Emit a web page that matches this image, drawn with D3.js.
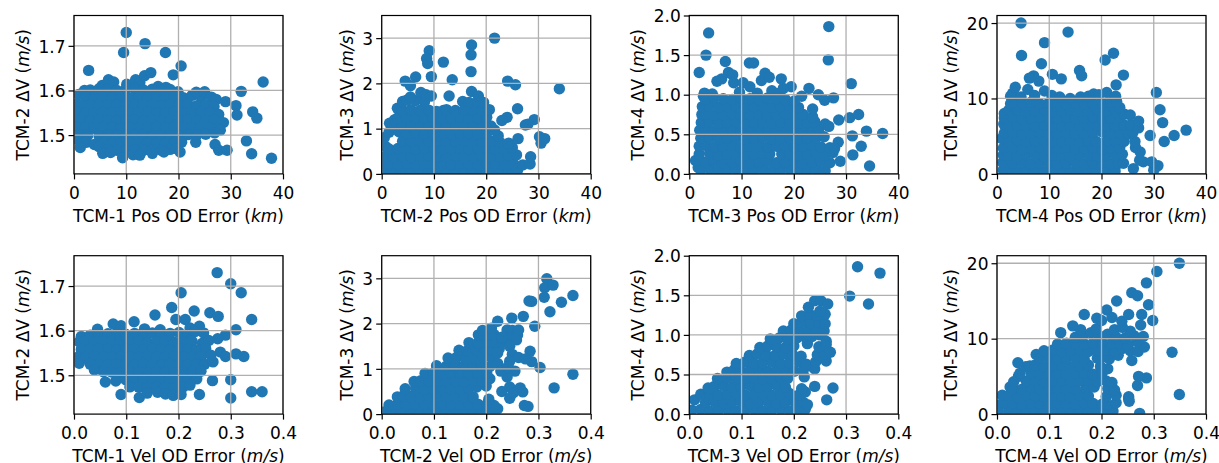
<!DOCTYPE html>
<html>
<head>
<meta charset="utf-8">
<script src="https://cdn.jsdelivr.net/npm/d3@7"></script>
<style>
  body { margin: 0; background: #fff; }
  svg { display: block; }
  text { font-family: "DejaVu Sans", sans-serif; fill: #000; }
</style>
</head>
<body>
<svg id="chart" width="1219" height="463"></svg>
<script>
// ---- Monte Carlo samples: [OD error, next-TCM delta-V] ----

// TCM-1 position OD error (km) vs TCM-2 dV (m/s)
const tcm1PosVsTcm2Dv = [
 [10.0,1.730],[9.5,1.685],[13.6,1.705],[17.5,1.685],[20.5,1.655],[2.8,1.645],[36.2,1.619],[32.0,1.598],
 [0.9,1.591],[2.0,1.600],[5.4,1.611],[6.6,1.624],[7.6,1.619],[10.1,1.614],[11.8,1.624],[12.6,1.618],[13.5,1.633],[14.7,1.640],[16.1,1.609],[17.6,1.607],[19.0,1.635],
 [3.1,1.601],[4.8,1.604],[6.5,1.602],[8.2,1.600],[9.9,1.603],[11.6,1.604],[13.3,1.601],[15.0,1.603],[16.7,1.600],[18.4,1.602],[19.9,1.597],
 [2.2,1.585],[3.9,1.583],[5.6,1.586],[7.3,1.584],[9.0,1.585],[10.7,1.583],[12.4,1.586],[14.1,1.584],[15.8,1.585],[17.5,1.583],[19.2,1.586],[20.9,1.584],[22.6,1.589],[24.3,1.586],[23.4,1.596],[25.0,1.597],[26.3,1.585],[27.2,1.580],
 [0.5,1.569],[1.4,1.567],[3.1,1.568],[4.8,1.566],[6.5,1.568],[8.2,1.567],[9.9,1.566],[11.6,1.568],[13.3,1.567],[15.0,1.569],[16.7,1.566],[18.4,1.568],[20.1,1.567],[21.8,1.569],[23.5,1.566],[25.2,1.568],[26.8,1.564],[29.0,1.575],[31.0,1.566],
 [0.5,1.551],[2.2,1.550],[3.9,1.549],[5.6,1.551],[7.3,1.550],[9.0,1.552],[10.7,1.549],[12.4,1.550],[14.1,1.551],[15.8,1.549],[17.5,1.550],[19.2,1.552],[20.9,1.550],[22.6,1.549],[24.3,1.551],[26.0,1.550],[27.7,1.546],[31.2,1.545],[34.2,1.552],[35.0,1.538],
 [0.4,1.534],[1.4,1.533],[3.1,1.532],[4.8,1.534],[6.5,1.533],[8.2,1.532],[9.9,1.534],[11.6,1.533],[13.3,1.532],[15.0,1.534],[16.7,1.533],[18.4,1.531],[20.1,1.533],[21.8,1.534],[23.5,1.532],[25.2,1.533],[26.9,1.534],[28.6,1.528],
 [0.6,1.517],[2.2,1.516],[3.9,1.515],[5.6,1.517],[7.3,1.516],[9.0,1.515],[10.7,1.517],[12.4,1.516],[14.1,1.515],[15.8,1.517],[17.5,1.516],[19.2,1.518],[20.9,1.516],[22.6,1.515],[24.3,1.517],[26.0,1.516],[27.7,1.514],
 [1.0,1.500],[2.6,1.499],[4.8,1.498],[6.5,1.500],[8.2,1.499],[9.9,1.498],[11.6,1.500],[13.3,1.499],[15.0,1.498],[16.7,1.500],[18.4,1.499],[20.1,1.498],[21.8,1.501],[23.5,1.500],[25.2,1.502],[26.9,1.505],[28.0,1.511],
 [0.8,1.489],[2.4,1.484],[3.9,1.479],[5.6,1.482],[7.3,1.481],[9.0,1.483],[10.7,1.482],[12.4,1.481],[14.1,1.483],[15.8,1.482],[17.5,1.481],[19.2,1.483],[20.6,1.484],[23.3,1.484],[33.0,1.487],
 [1.2,1.472],[4.8,1.474],[6.5,1.467],[8.2,1.466],[9.9,1.465],[11.6,1.467],[13.3,1.466],[15.0,1.467],[16.7,1.466],[18.4,1.468],[19.5,1.470],[27.0,1.479],[27.7,1.466],[29.3,1.466],
 [5.5,1.459],[7.0,1.461],[9.3,1.449],[11.3,1.456],[12.6,1.455],[15.0,1.459],[17.2,1.462],[20.3,1.462],[34.0,1.458],[37.8,1.448]
];

// TCM-2 position OD error (km) vs TCM-3 dV (m/s)
const tcm2PosVsTcm3Dv = [
 [0.5,0.05],[2.2,0.06],[3.9,0.04],[5.6,0.05],[7.3,0.06],[9.0,0.05],[10.7,0.04],[12.4,0.06],[14.1,0.05],[15.8,0.04],[17.5,0.06],[19.2,0.05],[20.9,0.04],[22.6,0.06],[24.3,0.05],[26.0,0.08],
 [0.3,0.25],[1.4,0.22],[3.1,0.21],[4.8,0.23],[6.5,0.22],[8.2,0.21],[9.9,0.23],[11.6,0.22],[13.3,0.21],[15.0,0.23],[16.7,0.22],[18.4,0.21],[20.1,0.23],[21.8,0.22],[23.5,0.21],[25.2,0.23],[27.0,0.20],[28.4,0.22],
 [0.6,0.38],[2.2,0.39],[3.9,0.40],[5.6,0.38],[7.3,0.39],[9.0,0.40],[10.7,0.38],[12.4,0.39],[14.1,0.40],[15.8,0.38],[17.5,0.39],[19.2,0.40],[20.9,0.38],[22.6,0.39],[24.3,0.40],[25.8,0.42],[28.5,0.38],
 [0.8,0.60],[1.4,0.55],[3.1,0.56],[4.8,0.57],[6.5,0.55],[8.2,0.56],[9.9,0.57],[11.6,0.55],[13.3,0.56],[15.0,0.57],[16.7,0.55],[18.4,0.56],[20.1,0.57],[21.8,0.55],[23.5,0.56],[25.0,0.58],
 [0.5,0.80],[4.0,0.72],[5.6,0.73],[7.3,0.74],[9.0,0.72],[10.7,0.73],[12.4,0.74],[14.1,0.72],[15.8,0.73],[17.5,0.74],[19.2,0.72],[20.9,0.73],[22.6,0.70],[24.3,0.68],[26.1,0.78],[22.3,0.84],
 [1.4,0.92],[3.3,0.93],[4.8,0.90],[6.5,0.91],[8.2,0.89],[9.9,0.90],[11.6,0.91],[13.3,0.89],[15.0,0.90],[16.7,0.91],[18.4,0.89],[20.1,0.90],[21.6,0.97],
 [1.5,1.12],[2.2,1.07],[3.9,1.08],[5.6,1.06],[7.3,1.07],[9.0,1.08],[10.7,1.06],[12.4,1.07],[14.1,1.08],[15.8,1.06],[17.5,1.07],[19.2,1.08],[20.9,1.06],
 [2.5,1.20],[3.1,1.24],[4.8,1.25],[6.5,1.23],[8.2,1.24],[9.9,1.25],[11.6,1.23],[13.3,1.24],[15.0,1.25],[16.7,1.23],[18.4,1.24],[20.1,1.25],
 [3.0,1.45],[3.9,1.41],[5.6,1.42],[7.3,1.40],[9.0,1.41],[10.5,1.38],[11.8,1.40],[12.4,1.42],[14.1,1.40],[15.8,1.41],[17.5,1.42],[19.2,1.40],[20.6,1.42],
 [4.0,1.60],[4.8,1.63],[6.5,1.62],[8.2,1.60],[15.5,1.60],[16.7,1.58],[18.4,1.60],[19.5,1.58],
 [5.5,1.70],[7.5,1.80],[8.5,1.75],[9.5,1.72],[17.2,1.82],[18.5,1.72],
 [21.6,3.00],[17.2,2.85],[17.1,2.63],[17.1,2.26],[9.1,2.72],[8.6,2.55],[8.8,2.44],[11.8,2.47],[9.5,2.15],[6.5,2.14],[4.5,2.05],[5.5,1.95],[13.5,2.08],[12.9,1.72],
 [24.1,2.05],[25.6,1.97],[34.0,1.88],[26.0,1.44],[24.0,1.25],[23.0,1.18],[29.2,1.20],[28.0,1.10],[27.5,1.08],[30.2,0.82],[30.5,0.68],[31.2,0.78]
];

// TCM-3 position OD error (km) vs TCM-4 dV (m/s)
const tcm3PosVsTcm4Dv = [
 [1.7,0.08],[2.2,0.05],[3.9,0.06],[5.6,0.04],[7.3,0.05],[9.0,0.06],[10.7,0.04],[12.4,0.05],[14.1,0.06],[15.8,0.04],[17.5,0.05],[19.2,0.06],[20.9,0.04],[22.6,0.05],[24.3,0.06],[26.0,0.04],
 [1.2,0.17],[3.1,0.15],[4.8,0.16],[6.5,0.14],[8.2,0.15],[9.9,0.16],[11.6,0.14],[13.3,0.15],[15.0,0.16],[16.7,0.14],[18.4,0.15],[20.1,0.16],[21.8,0.14],[23.5,0.15],[25.2,0.16],[26.9,0.14],[28.9,0.16],
 [1.9,0.25],[3.9,0.26],[5.6,0.24],[7.3,0.25],[9.0,0.26],[10.7,0.24],[12.4,0.25],[14.1,0.26],[15.4,0.25],[17.7,0.25],[19.2,0.26],[20.9,0.24],[22.6,0.25],[24.3,0.26],[26.0,0.24],[27.5,0.27],
 [1.9,0.35],[3.1,0.36],[4.8,0.34],[6.5,0.35],[8.2,0.36],[9.9,0.34],[11.6,0.35],[13.3,0.36],[15.0,0.34],[16.7,0.35],[18.4,0.36],[20.1,0.34],[21.8,0.35],[23.5,0.36],[25.2,0.34],[26.9,0.33],[28.5,0.40],[27.8,0.32],
 [2.2,0.45],[3.9,0.46],[5.6,0.44],[7.3,0.45],[9.0,0.46],[10.7,0.44],[12.4,0.45],[14.1,0.46],[15.8,0.44],[17.5,0.45],[19.2,0.46],[20.9,0.44],[22.6,0.45],[24.3,0.46],[25.8,0.47],
 [2.0,0.55],[3.1,0.56],[4.8,0.54],[6.5,0.55],[8.2,0.56],[9.9,0.54],[11.6,0.55],[13.3,0.56],[15.0,0.54],[16.7,0.55],[18.4,0.56],[20.1,0.54],[21.8,0.55],[23.5,0.56],[24.8,0.57],
 [2.3,0.65],[3.9,0.66],[5.6,0.64],[7.3,0.65],[9.0,0.66],[10.7,0.64],[12.4,0.65],[14.1,0.66],[15.8,0.64],[17.5,0.65],[19.2,0.66],[20.9,0.64],[22.6,0.65],[24.0,0.66],[26.0,0.63],[26.7,0.60],
 [2.4,0.75],[3.1,0.76],[4.8,0.74],[6.5,0.75],[8.2,0.76],[9.9,0.74],[11.6,0.75],[13.3,0.76],[15.0,0.74],[16.7,0.75],[18.4,0.76],[20.1,0.74],[21.8,0.75],[23.6,0.72],
 [2.5,0.85],[3.9,0.86],[5.6,0.84],[7.3,0.85],[9.0,0.86],[10.7,0.84],[12.4,0.85],[14.1,0.86],[15.8,0.84],[17.5,0.85],[19.2,0.86],[20.9,0.84],[23.6,0.82],
 [2.7,0.98],[3.1,0.94],[4.8,0.96],[6.5,0.95],[8.2,0.94],[9.9,0.96],[11.6,0.95],[13.3,0.94],[15.0,0.96],[16.7,0.95],[18.4,0.94],[20.1,0.92],[21.5,0.98],
 [2.9,1.02],[4.4,1.01],[5.3,1.17],[6.2,1.20],[6.9,1.42],[7.5,1.28],[8.3,1.25],[8.5,1.15],[10.3,1.15],[11.5,1.40],[12.3,1.40],[11.6,1.10],[13.8,1.18],[14.5,1.27],[15.3,1.22],
 [17.6,1.20],[15.8,1.05],[19.5,1.10],[22.9,1.08],[24.7,1.00],[25.9,0.93],[27.6,0.96],[9.6,1.03],[13.0,1.02],[17.2,1.02],[18.0,1.08],
 [3.7,1.78],[3.2,1.50],[1.9,1.28],[26.7,1.86],[26.6,1.44],[28.6,0.68],[30.7,0.71],[32.4,0.75],[31.0,1.14],[31.2,0.48],[33.9,0.54],[37.0,0.51],[32.9,0.35],[31.3,0.24],[34.5,0.10]
];

// TCM-4 position OD error (km) vs TCM-5 dV (m/s)
const tcm4PosVsTcm5Dv = [
 [1.2,0.5],[2.2,0.4],[3.9,0.3],[5.6,0.5],[7.3,0.4],[9.0,0.3],[10.7,0.5],[12.4,0.4],[14.1,0.3],[15.8,0.5],[17.5,0.4],[19.2,0.3],[20.9,0.5],[22.6,0.4],[26.1,0.7],[30.3,0.9],[30.0,0.5],
 [1.1,1.5],[1.4,1.3],[3.1,1.4],[4.8,1.5],[6.5,1.3],[8.2,1.4],[9.9,1.5],[11.6,1.3],[13.3,1.4],[15.0,1.5],[16.7,1.3],[18.4,1.4],[20.1,1.5],[21.8,1.3],[23.3,1.4],[24.2,1.4],[28.0,1.6],[29.6,1.6],[30.8,1.1],
 [1.2,2.5],[2.2,2.4],[3.9,2.3],[5.6,2.5],[7.3,2.4],[9.0,2.3],[10.7,2.5],[12.4,2.4],[14.1,2.3],[15.8,2.5],[17.5,2.4],[19.2,2.3],[20.9,2.5],[22.6,2.4],[24.0,2.6],[27.3,1.8],
 [1.2,3.4],[3.1,3.5],[4.8,3.3],[6.5,3.4],[8.2,3.5],[9.9,3.3],[11.6,3.4],[13.3,3.5],[15.0,3.3],[16.7,3.4],[18.4,3.5],[20.1,3.3],[21.8,3.4],[23.5,3.5],[27.4,2.9],[26.5,3.5],
 [0.9,4.7],[2.2,4.4],[3.9,4.5],[5.6,4.3],[7.3,4.4],[9.0,4.5],[10.7,4.3],[12.4,4.4],[14.1,4.5],[15.8,4.3],[17.5,4.4],[19.0,4.3],[21.0,4.4],[22.6,4.5],[24.3,4.3],[26.4,4.3],
 [1.4,5.4],[3.1,5.5],[4.8,5.3],[6.5,5.4],[8.2,5.5],[9.9,5.3],[11.6,5.4],[13.3,5.5],[15.0,5.3],[16.7,5.4],[18.4,5.5],[20.1,5.6],[21.8,5.4],[23.5,5.5],[25.2,5.3],[26.0,5.5],
 [1.3,6.6],[2.2,6.4],[3.9,6.5],[5.6,6.3],[7.3,6.4],[9.0,6.5],[10.7,6.3],[12.4,6.4],[14.1,6.5],[15.8,6.3],[17.5,6.4],[19.2,6.5],[20.9,6.3],[22.6,6.4],[24.3,6.5],[25.6,6.5],[27.1,6.1],
 [1.4,7.4],[3.1,7.5],[4.8,7.3],[6.5,7.4],[8.2,7.5],[9.9,7.3],[11.6,7.4],[13.3,7.5],[15.0,7.3],[16.7,7.4],[18.4,7.5],[20.1,7.3],[21.8,7.4],[23.5,7.5],[24.4,7.9],[25.5,7.8],[27.1,7.0],
 [1.4,8.0],[2.2,8.4],[3.9,8.5],[5.6,8.3],[7.3,8.4],[9.0,8.5],[10.7,8.3],[12.4,8.4],[14.1,8.5],[15.8,8.3],[17.5,8.4],[19.2,8.5],[20.9,8.3],[22.6,8.6],[23.5,8.8],
 [2.6,9.3],[3.1,9.5],[4.8,9.4],[6.5,9.5],[8.2,9.3],[9.9,9.4],[11.6,9.5],[13.3,9.3],[15.0,9.4],[16.7,9.5],[18.4,9.3],[20.1,9.4],[21.8,9.5],[22.9,9.6],
 [2.6,10.3],[3.0,10.7],[3.5,11.5],[4.6,10.2],[5.9,11.2],[7.2,10.4],[9.1,11.0],[10.5,10.4],[12.0,10.2],[14.0,10.0],[16.0,10.2],[17.5,10.3],[18.5,10.6],[19.5,10.5],[21.0,10.8],[22.7,10.3],
 [4.6,20.0],[13.6,18.8],[9.1,17.4],[4.7,15.7],[8.5,14.6],[22.3,16.0],[20.7,15.1],[15.8,13.7],[16.2,13.0],[24.2,13.1],[10.6,13.2],[7.0,13.0],[6.2,12.7],[8.0,12.3],[12.3,12.6],[22.8,11.8],
 [30.5,10.8],[31.2,8.5],[31.7,6.8],[36.2,5.8],[33.9,5.1],[32.0,4.3],[29.3,5.1]
];

// TCM-1 velocity OD error (m/s) vs TCM-2 dV (m/s)
const tcm1VelVsTcm2Dv = [
 [0.274,1.730],[0.300,1.705],[0.320,1.685],[0.205,1.685],[0.340,1.625],[0.187,1.652],[0.155,1.635],[0.230,1.644],[0.260,1.640],[0.276,1.632],[0.213,1.625],[0.195,1.625],[0.240,1.610],[0.310,1.602],[0.290,1.590],[0.275,1.582],
 [0.045,1.603],[0.075,1.615],[0.090,1.611],[0.115,1.620],[0.135,1.604],[0.165,1.602],[0.222,1.606],
 [0.014,1.587],[0.031,1.590],[0.048,1.592],[0.065,1.593],[0.082,1.594],[0.099,1.592],[0.116,1.594],[0.133,1.593],[0.150,1.595],[0.167,1.593],[0.184,1.594],[0.201,1.596],[0.218,1.592],[0.232,1.598],[0.248,1.595],
 [0.010,1.575],[0.022,1.576],[0.039,1.574],[0.056,1.575],[0.073,1.576],[0.090,1.574],[0.107,1.575],[0.124,1.576],[0.141,1.574],[0.158,1.575],[0.175,1.576],[0.192,1.574],[0.209,1.575],[0.226,1.576],[0.246,1.572],[0.258,1.578],
 [0.014,1.558],[0.031,1.557],[0.048,1.559],[0.065,1.558],[0.082,1.557],[0.099,1.559],[0.116,1.558],[0.133,1.557],[0.150,1.559],[0.167,1.558],[0.184,1.557],[0.201,1.559],[0.218,1.558],[0.235,1.557],[0.252,1.560],[0.280,1.552],
 [0.008,1.541],[0.022,1.540],[0.039,1.542],[0.056,1.541],[0.073,1.540],[0.090,1.542],[0.107,1.541],[0.124,1.540],[0.141,1.542],[0.158,1.541],[0.175,1.540],[0.192,1.542],[0.209,1.541],[0.226,1.540],[0.243,1.542],[0.262,1.545],[0.290,1.542],[0.310,1.548],[0.325,1.542],
 [0.010,1.527],[0.031,1.525],[0.048,1.524],[0.065,1.523],[0.082,1.525],[0.099,1.524],[0.116,1.523],[0.133,1.525],[0.150,1.524],[0.167,1.523],[0.184,1.525],[0.201,1.524],[0.218,1.523],[0.235,1.525],[0.250,1.525],[0.266,1.530],
 [0.039,1.512],[0.056,1.508],[0.073,1.507],[0.090,1.506],[0.107,1.508],[0.124,1.507],[0.141,1.506],[0.158,1.508],[0.175,1.507],[0.192,1.506],[0.209,1.508],[0.226,1.507],[0.243,1.509],
 [0.060,1.485],[0.080,1.487],[0.099,1.490],[0.116,1.489],[0.133,1.491],[0.150,1.490],[0.167,1.489],[0.184,1.491],[0.201,1.490],[0.218,1.489],[0.235,1.492],[0.265,1.488],[0.300,1.490],
 [0.107,1.474],[0.124,1.473],[0.141,1.472],[0.158,1.474],[0.175,1.473],[0.192,1.472],[0.209,1.474],[0.222,1.478],
 [0.090,1.457],[0.125,1.450],[0.140,1.460],[0.160,1.462],[0.175,1.458],[0.190,1.455],[0.205,1.457],[0.240,1.457],[0.300,1.449],[0.340,1.463],[0.360,1.463]
];

// TCM-2 velocity OD error (m/s) vs TCM-3 dV (m/s)
const tcm2VelVsTcm3Dv = [
 [0.005,0.05],[0.022,0.06],[0.039,0.04],[0.056,0.05],[0.073,0.06],[0.090,0.05],[0.107,0.04],[0.124,0.06],[0.141,0.05],[0.158,0.04],[0.175,0.06],[0.192,0.05],[0.209,0.05],[0.222,0.12],
 [0.014,0.20],[0.031,0.22],[0.048,0.21],[0.065,0.23],[0.082,0.22],[0.099,0.21],[0.116,0.23],[0.133,0.22],[0.150,0.21],[0.167,0.23],[0.184,0.22],[0.201,0.21],[0.215,0.19],
 [0.030,0.38],[0.041,0.40],[0.056,0.39],[0.073,0.38],[0.090,0.40],[0.107,0.39],[0.124,0.38],[0.141,0.40],[0.158,0.39],[0.175,0.38],[0.205,0.33],
 [0.045,0.56],[0.065,0.57],[0.082,0.55],[0.099,0.56],[0.116,0.57],[0.133,0.55],[0.150,0.56],[0.167,0.57],[0.182,0.60],[0.200,0.62],
 [0.062,0.72],[0.075,0.74],[0.090,0.73],[0.107,0.72],[0.124,0.74],[0.141,0.73],[0.158,0.72],[0.175,0.74],[0.192,0.73],[0.207,0.78],
 [0.083,0.90],[0.099,0.91],[0.116,0.89],[0.133,0.90],[0.150,0.91],[0.167,0.89],[0.184,0.90],[0.201,0.91],
 [0.105,1.07],[0.124,1.06],[0.141,1.08],[0.158,1.07],[0.175,1.06],[0.192,1.08],[0.207,1.05],
 [0.127,1.24],[0.143,1.25],[0.160,1.23],[0.177,1.24],[0.194,1.25],[0.210,1.25],
 [0.148,1.41],[0.164,1.40],[0.181,1.42],[0.198,1.41],[0.213,1.40],
 [0.167,1.58],[0.184,1.57],[0.201,1.59],[0.218,1.58],
 [0.185,1.75],[0.200,1.74],[0.215,1.76],[0.193,1.85],[0.210,1.90],[0.222,2.05],
 [0.240,1.86],[0.250,1.85],[0.245,1.68],[0.260,1.75],[0.249,2.12],[0.271,2.16],[0.262,1.86],[0.232,1.62],[0.258,1.64],[0.245,1.50],[0.230,1.70],[0.225,1.45],[0.222,1.35],[0.222,1.12],
 [0.250,1.32],[0.245,1.17],[0.262,1.25],[0.255,0.95],[0.240,0.82],[0.228,0.95],[0.242,1.05],[0.230,0.50],[0.245,0.60],[0.245,0.35],[0.265,0.58],[0.270,0.49],[0.252,0.47],
 [0.284,1.39],[0.287,1.16],[0.275,1.22],[0.303,1.03],[0.366,0.88],[0.330,0.58],[0.280,0.17],[0.273,0.19],
 [0.316,2.99],[0.312,2.79],[0.328,2.85],[0.311,2.58],[0.322,2.26],[0.344,2.47],[0.366,2.62],[0.287,2.49],[0.282,2.50],[0.293,1.94]
];

// TCM-3 velocity OD error (m/s) vs TCM-4 dV (m/s)
const tcm3VelVsTcm4Dv = [
 [0.005,0.05],[0.022,0.06],[0.039,0.04],[0.056,0.05],[0.073,0.06],[0.090,0.04],[0.107,0.05],[0.124,0.06],[0.141,0.04],[0.158,0.05],[0.175,0.06],[0.192,0.04],[0.209,0.05],[0.222,0.06],
 [0.010,0.18],[0.031,0.15],[0.048,0.16],[0.065,0.14],[0.082,0.15],[0.099,0.16],[0.116,0.14],[0.133,0.15],[0.150,0.16],[0.167,0.14],[0.184,0.15],[0.201,0.16],[0.218,0.15],[0.226,0.12],
 [0.022,0.25],[0.039,0.26],[0.056,0.24],[0.073,0.25],[0.090,0.26],[0.107,0.24],[0.124,0.25],[0.141,0.26],[0.158,0.24],[0.175,0.25],[0.192,0.26],[0.209,0.24],[0.222,0.28],
 [0.036,0.33],[0.048,0.35],[0.065,0.36],[0.082,0.34],[0.099,0.35],[0.116,0.36],[0.133,0.34],[0.150,0.35],[0.167,0.36],[0.184,0.34],[0.215,0.32],[0.240,0.35],
 [0.054,0.45],[0.073,0.46],[0.090,0.44],[0.107,0.45],[0.124,0.46],[0.141,0.44],[0.158,0.45],[0.175,0.46],[0.188,0.45],[0.220,0.47],
 [0.072,0.53],[0.086,0.56],[0.099,0.54],[0.116,0.55],[0.133,0.56],[0.150,0.54],[0.167,0.55],[0.184,0.56],[0.201,0.54],[0.218,0.55],[0.235,0.60],[0.240,0.57],
 [0.090,0.64],[0.107,0.66],[0.124,0.64],[0.141,0.65],[0.158,0.66],[0.175,0.64],[0.192,0.65],[0.209,0.66],[0.224,0.63],[0.242,0.66],[0.262,0.67],
 [0.115,0.74],[0.130,0.76],[0.147,0.75],[0.164,0.74],[0.181,0.76],[0.198,0.75],[0.214,0.73],[0.245,0.75],[0.258,0.76],[0.270,0.78],
 [0.135,0.84],[0.150,0.86],[0.167,0.85],[0.184,0.84],[0.200,0.86],[0.226,0.89],[0.248,0.85],[0.262,0.88],
 [0.155,0.95],[0.172,0.96],[0.189,0.94],[0.206,0.96],[0.220,0.98],[0.235,0.98],[0.250,1.00],[0.262,0.92],
 [0.180,1.05],[0.195,1.06],[0.212,1.04],[0.228,1.06],[0.243,1.05],[0.258,1.05],
 [0.200,1.14],[0.216,1.16],[0.232,1.15],[0.248,1.16],[0.260,1.14],
 [0.215,1.24],[0.230,1.26],[0.245,1.25],[0.260,1.26],
 [0.228,1.35],[0.240,1.43],[0.252,1.43],[0.265,1.39],[0.250,1.30],
 [0.275,0.33],[0.263,0.18],[0.322,1.86],[0.365,1.78],[0.307,1.49],[0.343,1.39]
];

// TCM-4 velocity OD error (m/s) vs TCM-5 dV (m/s)
const tcm4VelVsTcm5Dv = [
 [0.002,0.3],[0.022,0.4],[0.039,0.3],[0.056,0.5],[0.073,0.4],[0.090,0.3],[0.107,0.5],[0.124,0.4],[0.141,0.3],[0.158,0.5],[0.175,0.4],[0.192,0.3],[0.209,0.5],[0.222,0.4],[0.273,0.1],
 [0.005,1.2],[0.014,1.5],[0.031,1.4],[0.048,1.3],[0.065,1.5],[0.082,1.4],[0.099,1.3],[0.116,1.5],[0.133,1.4],[0.150,1.3],[0.167,1.5],[0.184,1.4],[0.201,1.3],[0.212,1.2],[0.228,1.5],[0.253,1.7],
 [0.010,2.5],[0.022,2.4],[0.039,2.3],[0.056,2.5],[0.073,2.4],[0.090,2.3],[0.107,2.5],[0.124,2.4],[0.141,2.3],[0.158,2.5],[0.175,2.4],[0.209,2.3],[0.228,2.5],[0.252,2.3],
 [0.025,3.6],[0.031,3.4],[0.048,3.3],[0.065,3.5],[0.082,3.4],[0.099,3.3],[0.116,3.5],[0.133,3.4],[0.150,3.3],[0.170,3.5],[0.186,3.6],[0.212,3.4],[0.225,3.2],
 [0.032,4.3],[0.041,5.0],[0.056,4.4],[0.073,4.5],[0.090,4.3],[0.107,4.4],[0.124,4.5],[0.141,4.3],[0.158,4.4],[0.175,4.5],[0.192,4.3],[0.209,4.4],[0.220,4.2],[0.269,3.8],[0.286,4.8],[0.271,5.0],
 [0.044,5.4],[0.055,6.3],[0.065,5.5],[0.082,5.3],[0.099,5.4],[0.116,5.5],[0.133,5.3],[0.150,5.4],[0.167,5.5],[0.184,5.3],[0.201,5.4],[0.212,6.0],
 [0.040,6.8],[0.063,6.4],[0.073,6.5],[0.090,6.3],[0.107,6.4],[0.124,6.5],[0.141,6.3],[0.158,6.4],[0.175,6.5],[0.198,6.3],[0.215,7.3],
 [0.075,7.9],[0.082,7.4],[0.099,7.5],[0.116,7.3],[0.133,7.4],[0.150,7.5],[0.167,7.3],[0.192,7.4],[0.205,7.6],[0.232,7.8],[0.258,7.1],
 [0.090,8.4],[0.107,8.5],[0.124,8.3],[0.141,8.4],[0.158,8.5],[0.175,8.3],[0.192,8.4],[0.209,8.5],[0.226,8.3],[0.240,8.7],[0.255,8.4],[0.270,8.3],[0.282,8.9],
 [0.116,9.3],[0.133,9.4],[0.150,9.5],[0.167,9.3],[0.184,9.4],[0.201,9.5],[0.218,9.3],[0.235,9.4],[0.250,9.2],[0.268,9.6],
 [0.122,10.8],[0.150,10.2],[0.165,10.4],[0.180,10.8],[0.195,10.4],[0.212,10.6],[0.228,10.2],[0.245,10.1],[0.262,10.4],[0.280,10.3],
 [0.160,11.2],[0.190,11.3],[0.225,11.2],[0.255,11.0],[0.240,11.5],[0.145,11.7],
 [0.167,13.2],[0.191,12.7],[0.200,12.4],[0.210,13.8],[0.220,12.8],[0.239,12.3],[0.252,13.2],[0.229,15.0],[0.258,16.1],[0.269,15.7],[0.277,13.2],[0.298,12.4],[0.275,11.8],[0.290,14.5],
 [0.286,17.4],[0.306,18.9],[0.349,20.0],[0.335,8.2],[0.349,2.6],[0.252,2.0]
];

// ---- axis ticks ----
const posErrTicks = [0, 10, 20, 30, 40];
const velErrTicks = [0.0, 0.1, 0.2, 0.3, 0.4];
const tcm2DvTicks = [1.5, 1.6, 1.7];
const tcm3DvTicks = [0, 1, 2, 3];
const tcm4DvTicks = [0.0, 0.5, 1.0, 1.5, 2.0];
const tcm5DvTicks = [0, 10, 20];

const fmtInt = d3.format("d");
const fmt1 = d3.format(".1f");

const panels = [
  { pts: tcm1PosVsTcm2Dv, row: 0, col: 0, xDom: [0, 40], xTicks: posErrTicks, xFmt: fmtInt, yDom: [1.413, 1.768], yTicks: tcm2DvTicks, yFmt: fmt1, xName: "TCM-1 Pos OD Error", xUnit: "km", yName: "TCM-2" },
  { pts: tcm2PosVsTcm3Dv, row: 0, col: 1, xDom: [0, 40], xTicks: posErrTicks, xFmt: fmtInt, yDom: [0, 3.5], yTicks: tcm3DvTicks, yFmt: fmtInt, xName: "TCM-2 Pos OD Error", xUnit: "km", yName: "TCM-3" },
  { pts: tcm3PosVsTcm4Dv, row: 0, col: 2, xDom: [0, 40], xTicks: posErrTicks, xFmt: fmtInt, yDom: [0, 2], yTicks: tcm4DvTicks, yFmt: fmt1, xName: "TCM-3 Pos OD Error", xUnit: "km", yName: "TCM-4" },
  { pts: tcm4PosVsTcm5Dv, row: 0, col: 3, xDom: [0, 40], xTicks: posErrTicks, xFmt: fmtInt, yDom: [0, 21], yTicks: tcm5DvTicks, yFmt: fmtInt, xName: "TCM-4 Pos OD Error", xUnit: "km", yName: "TCM-5" },
  { pts: tcm1VelVsTcm2Dv, row: 1, col: 0, xDom: [0, 0.4], xTicks: velErrTicks, xFmt: fmt1, yDom: [1.413, 1.768], yTicks: tcm2DvTicks, yFmt: fmt1, xName: "TCM-1 Vel OD Error", xUnit: "m/s", yName: "TCM-2" },
  { pts: tcm2VelVsTcm3Dv, row: 1, col: 1, xDom: [0, 0.4], xTicks: velErrTicks, xFmt: fmt1, yDom: [0, 3.5], yTicks: tcm3DvTicks, yFmt: fmtInt, xName: "TCM-2 Vel OD Error", xUnit: "m/s", yName: "TCM-3" },
  { pts: tcm3VelVsTcm4Dv, row: 1, col: 2, xDom: [0, 0.4], xTicks: velErrTicks, xFmt: fmt1, yDom: [0, 2], yTicks: tcm4DvTicks, yFmt: fmt1, xName: "TCM-3 Vel OD Error", xUnit: "m/s", yName: "TCM-4" },
  { pts: tcm4VelVsTcm5Dv, row: 1, col: 3, xDom: [0, 0.4], xTicks: velErrTicks, xFmt: fmt1, yDom: [0, 21], yTicks: tcm5DvTicks, yFmt: fmtInt, xName: "TCM-4 Vel OD Error", xUnit: "m/s", yName: "TCM-5" }
];

// ---- layout ----
const colLeft = [74, 381.7, 689.3, 997];
const rowTop = [15.5, 255.7];
const W = 209, H = 158.4;
const FONT = 17;
const BLUE = "#1f77b4";
const GRID = "#b0b0b0";
const R = 5.7;

const svg = d3.select("#chart");

panels.forEach((p, i) => {
  const x = d3.scaleLinear().domain(p.xDom).range([0, W]);
  const y = d3.scaleLinear().domain(p.yDom).range([H, 0]);
  const g = svg.append("g").attr("transform", `translate(${colLeft[p.col]},${rowTop[p.row]})`);

  const clipId = "clip" + i;
  g.append("clipPath").attr("id", clipId).append("rect").attr("width", W).attr("height", H);

  // scatter
  g.append("g").attr("clip-path", `url(#${clipId})`)
    .selectAll("circle").data(p.pts).join("circle")
    .attr("cx", d => x(d[0])).attr("cy", d => y(d[1]))
    .attr("r", R).attr("fill", BLUE);

  // grid (drawn above the markers)
  const grid = g.append("g").attr("stroke", GRID).attr("stroke-width", 1.3);
  grid.selectAll(".gx").data(p.xTicks).join("line")
    .attr("x1", d => x(d)).attr("x2", d => x(d)).attr("y1", 0).attr("y2", H);
  grid.selectAll(".gy").data(p.yTicks).join("line")
    .attr("y1", d => y(d)).attr("y2", d => y(d)).attr("x1", 0).attr("x2", W);

  // axes
  const ax = g.append("g").attr("transform", `translate(0,${H})`)
    .call(d3.axisBottom(x).tickValues(p.xTicks).tickFormat(p.xFmt).tickSize(5.5).tickPadding(4));
  const ay = g.append("g")
    .call(d3.axisLeft(y).tickValues(p.yTicks).tickFormat(p.yFmt).tickSize(5.5).tickPadding(3));
  [ax, ay].forEach(a => {
    a.select(".domain").remove();
    a.selectAll(".tick line").attr("stroke", "#000").attr("stroke-width", 1.2);
    a.selectAll("text").attr("font-size", FONT).attr("font-family", "DejaVu Sans").attr("fill", "#000");
  });
  ax.selectAll("text").attr("dy", null).attr("y", 25.3);
  ay.selectAll("text").attr("dy", null).attr("x", -8.5).attr("y", 6.2);

  // spines
  g.append("rect").attr("width", W).attr("height", H)
    .attr("fill", "none").attr("stroke", "#000").attr("stroke-width", 1.2);

  // x label
  const xl = g.append("text").attr("x", W / 2).attr("y", H + 48)
    .attr("text-anchor", "middle").attr("font-size", FONT);
  xl.append("tspan").text(p.xName + " (");
  xl.append("tspan").attr("font-style", "italic").text(p.xUnit);
  xl.append("tspan").text(")");

  // y label, placed left of the widest tick label
  const tickLeft = d3.min(ay.selectAll("text").nodes(), n => -8.5 - n.getComputedTextLength());
  const lx = tickLeft - 9.5;
  const yl = g.append("text")
    .attr("transform", `translate(${lx},${H / 2}) rotate(-90)`)
    .attr("text-anchor", "middle").attr("font-size", FONT);
  yl.append("tspan").text(p.yName + " \u0394V (");
  yl.append("tspan").attr("font-style", "italic").text("m/s");
  yl.append("tspan").text(")");
});
</script>
</body>
</html>
